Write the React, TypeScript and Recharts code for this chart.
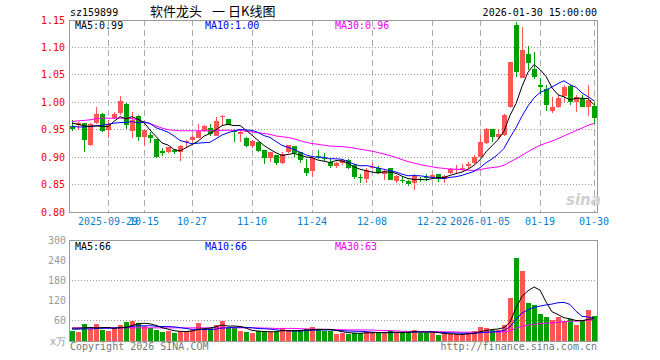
import React from "react";
import {
  ComposedChart,
  Bar,
  Line,
  XAxis,
  YAxis,
  CartesianGrid,
  ReferenceArea,
  Cell,
} from "recharts";

// Trading days shown on the chart (88 sessions).
const DATES = [
  "2025-09-19", "2025-09-22", "2025-09-23", "2025-09-24", "2025-09-25", "2025-09-26", "2025-09-29", "2025-09-30",
  "2025-10-09", "2025-10-10", "2025-10-13", "2025-10-14", "2025-10-15", "2025-10-16", "2025-10-17", "2025-10-20",
  "2025-10-21", "2025-10-22", "2025-10-23", "2025-10-24", "2025-10-27", "2025-10-28", "2025-10-29", "2025-10-30",
  "2025-10-31", "2025-11-03", "2025-11-04", "2025-11-05", "2025-11-06", "2025-11-07", "2025-11-10", "2025-11-11",
  "2025-11-12", "2025-11-13", "2025-11-14", "2025-11-17", "2025-11-18", "2025-11-19", "2025-11-20", "2025-11-21",
  "2025-11-24", "2025-11-25", "2025-11-26", "2025-11-27", "2025-11-28", "2025-12-01", "2025-12-02", "2025-12-03",
  "2025-12-04", "2025-12-05", "2025-12-08", "2025-12-09", "2025-12-10", "2025-12-11", "2025-12-12", "2025-12-15",
  "2025-12-16", "2025-12-17", "2025-12-18", "2025-12-19", "2025-12-22", "2025-12-23", "2025-12-24", "2025-12-25",
  "2025-12-26", "2025-12-29", "2025-12-30", "2025-12-31", "2026-01-05", "2026-01-06", "2026-01-07", "2026-01-08",
  "2026-01-09", "2026-01-12", "2026-01-13", "2026-01-14", "2026-01-15", "2026-01-16", "2026-01-19", "2026-01-20",
  "2026-01-21", "2026-01-22", "2026-01-23", "2026-01-26", "2026-01-27", "2026-01-28", "2026-01-29", "2026-01-30",
];

const OPEN = [
  0.957, 0.958, 0.962, 0.923, 0.962, 0.979, 0.949, 0.971, 0.981, 0.997,
  0.948, 0.975, 0.937, 0.941, 0.933, 0.911, 0.909, 0.913, 0.910, 0.927,
  0.931, 0.934, 0.948, 0.954, 0.939, 0.973, 0.970, 0.948, 0.942, 0.935,
  0.921, 0.928, 0.913, 0.898, 0.903, 0.889, 0.909, 0.920, 0.910, 0.881,
  0.875, 0.902, 0.899, 0.891, 0.883, 0.889, 0.895, 0.886, 0.864, 0.861,
  0.880, 0.881, 0.869, 0.880, 0.857, 0.859, 0.857, 0.852, 0.861, 0.863,
  0.863, 0.869, 0.861, 0.871, 0.876, 0.880, 0.883, 0.890, 0.901, 0.926,
  0.951, 0.936, 0.940, 0.991, 1.141, 1.045, 1.088, 1.060, 1.031, 1.025,
  0.984, 0.991, 1.011, 1.030, 1.001, 1.007, 0.991, 0.993,
];
const CLOSE = [
  0.952, 0.963, 0.931, 0.960, 0.979, 0.947, 0.961, 0.979, 1.003, 0.959,
  0.967, 0.937, 0.949, 0.935, 0.900, 0.908, 0.918, 0.910, 0.920, 0.930,
  0.937, 0.948, 0.957, 0.943, 0.965, 0.975, 0.959, 0.945, 0.945, 0.921,
  0.930, 0.912, 0.898, 0.910, 0.890, 0.905, 0.922, 0.907, 0.895, 0.872,
  0.899, 0.900, 0.897, 0.883, 0.890, 0.895, 0.880, 0.863, 0.862, 0.877,
  0.882, 0.872, 0.874, 0.858, 0.866, 0.856, 0.851, 0.866, 0.858, 0.862,
  0.867, 0.861, 0.866, 0.878, 0.878, 0.881, 0.888, 0.900, 0.928, 0.951,
  0.937, 0.943, 0.977, 1.074, 1.056, 1.095, 1.072, 1.047, 1.028, 0.995,
  0.991, 1.007, 1.028, 1.001, 1.010, 0.991, 1.004, 0.972,
];
const HIGH = [
  0.968, 0.964, 0.963, 0.962, 0.991, 0.980, 0.967, 0.982, 1.011, 0.998,
  0.982, 0.976, 0.949, 0.946, 0.933, 0.916, 0.919, 0.915, 0.922, 0.931,
  0.940, 0.960, 0.958, 0.960, 0.973, 0.976, 0.970, 0.950, 0.948, 0.937,
  0.931, 0.928, 0.913, 0.910, 0.903, 0.909, 0.923, 0.921, 0.910, 0.897,
  0.901, 0.913, 0.907, 0.897, 0.892, 0.897, 0.897, 0.887, 0.869, 0.880,
  0.889, 0.883, 0.876, 0.881, 0.867, 0.864, 0.858, 0.869, 0.864, 0.869,
  0.869, 0.870, 0.867, 0.880, 0.886, 0.888, 0.892, 0.904, 0.940, 0.953,
  0.951, 0.951, 0.978, 1.074, 1.147, 1.138, 1.103, 1.092, 1.044, 1.031,
  1.009, 1.013, 1.031, 1.031, 1.013, 1.013, 1.031, 1.001,
];
const LOW = [
  0.948, 0.949, 0.909, 0.921, 0.961, 0.945, 0.935, 0.970, 0.977, 0.952,
  0.934, 0.929, 0.920, 0.925, 0.899, 0.902, 0.908, 0.905, 0.893, 0.919,
  0.928, 0.934, 0.946, 0.939, 0.939, 0.958, 0.958, 0.928, 0.928, 0.919,
  0.916, 0.910, 0.887, 0.892, 0.886, 0.887, 0.907, 0.901, 0.889, 0.866,
  0.863, 0.897, 0.893, 0.881, 0.880, 0.886, 0.878, 0.860, 0.852, 0.852,
  0.879, 0.870, 0.858, 0.858, 0.853, 0.852, 0.847, 0.841, 0.855, 0.857,
  0.861, 0.855, 0.853, 0.869, 0.869, 0.874, 0.880, 0.888, 0.900, 0.924,
  0.928, 0.931, 0.939, 0.989, 1.047, 1.045, 1.058, 1.042, 1.016, 0.985,
  0.981, 0.989, 1.001, 0.995, 0.983, 0.991, 0.975, 0.960,
];
// volume, in 万
const VOLUME = [
  31, 26, 51, 36, 51, 34, 29, 36, 49, 57,
  60, 52, 46, 40, 34, 26, 31, 23, 29, 31,
  34, 54, 36, 38, 49, 60, 38, 38, 31, 26,
  24, 29, 31, 27, 27, 40, 29, 31, 29, 36,
  41, 36, 31, 29, 20, 24, 20, 25, 25, 27,
  25, 25, 25, 29, 25, 25, 25, 34, 25, 25,
  25, 17, 20, 20, 20, 20, 25, 29, 43, 40,
  34, 32, 49, 127, 248, 207, 114, 106, 81, 72,
  61, 72, 60, 64, 47, 58, 91, 74,
];

// moving-average values before enough history is on screen
const MA5_HEAD = [0.962, 0.960, 0.957, 0.956];
const MA10_HEAD = [0.956, 0.955, 0.955, 0.956, 0.957, 0.958, 0.960, 0.962, 0.963];
const MA30_HEAD = [
  0.965, 0.966, 0.967, 0.968, 0.970, 0.971, 0.971, 0.971, 0.971, 0.971,
  0.970, 0.968, 0.964, 0.961, 0.957, 0.953, 0.950, 0.949, 0.948, 0.948,
  0.948, 0.948, 0.948, 0.948, 0.948, 0.949, 0.949, 0.949, 0.949,
];
const VMA5_HEAD = [38, 38, 39, 40];
const VMA10_HEAD = [35, 35, 36, 36, 37, 38, 38, 39, 39];
const VMA30_HEAD = [
  39, 39, 39, 39, 39, 39, 39, 39, 39, 39,
  39, 39, 39, 39, 39, 39, 39, 39, 39, 39,
  39, 39, 39, 39, 39, 39, 39, 39, 39,
];

const TICKS = [
  "2025-09-29", "2025-10-15", "2025-10-27", "2025-11-10", "2025-11-24",
  "2025-12-08", "2025-12-22", "2026-01-05", "2026-01-19", "2026-01-30",
];
const TICK_LABELS = [
  "2025-09-29", "10-15", "10-27", "11-10", "11-24",
  "12-08", "12-22", "2026-01-05", "01-19", "01-30",
];
const PRICE_TICKS = [0.8, 0.85, 0.9, 0.95, 1.0, 1.05, 1.1, 1.15];
const VOL_TICKS = [0, 60, 120, 180, 240, 300];

const UP = "#ff5555";
const DOWN = "#00a000";
const MONO = "'DejaVu Sans Mono', monospace";

function movingAvg(values: number[], n: number, head: number[]) {
  return values.map((_, i) => {
    if (i < head.length) return head[i];
    let s = 0;
    for (let k = i - n + 1; k <= i; k++) s += values[k];
    return s / n;
  });
}

const ma5 = movingAvg(CLOSE, 5, MA5_HEAD);
const ma10 = movingAvg(CLOSE, 10, MA10_HEAD);
const ma30 = movingAvg(CLOSE, 30, MA30_HEAD);
const vma5 = movingAvg(VOLUME, 5, VMA5_HEAD);
const vma10 = movingAvg(VOLUME, 10, VMA10_HEAD);
const vma30 = movingAvg(VOLUME, 30, VMA30_HEAD);

const rows = DATES.map((d, i) => ({
  d,
  o: OPEN[i],
  c: CLOSE[i],
  h: HIGH[i],
  l: LOW[i],
  hl: [LOW[i], HIGH[i]],
  ma5: ma5[i],
  ma10: ma10[i],
  ma30: ma30[i],
  v: VOLUME[i],
  vma5: vma5[i],
  vma10: vma10[i],
  vma30: vma30[i],
}));

function fmtTick(d: string) {
  const k = TICKS.indexOf(d);
  return k >= 0 ? TICK_LABELS[k] : "";
}

// candlestick drawn inside the [low, high] range bar
function Candle(props: any) {
  const { x, y, width, height, payload } = props;
  const { o, c, h, l } = payload;
  const color = c >= o ? UP : DOWN;
  const top = Math.min(y, y + height);
  const hh = Math.abs(height);
  const span = h - l || 1e-9;
  const yOf = (v: number) => top + ((h - v) / span) * hh;
  const bTop = yOf(Math.max(o, c));
  const bBot = yOf(Math.min(o, c));
  const bx = Math.round(x);
  return (
    <g shapeRendering="crispEdges">
      <rect x={bx + 2} y={top} width={1} height={Math.max(1, hh)} fill={color} />
      <rect x={bx} y={bTop} width={5} height={Math.max(1, bBot - bTop)} fill={color} />
    </g>
  );
}

const txt = (extra: React.CSSProperties): React.CSSProperties => ({
  position: "absolute",
  fontFamily: MONO,
  fontSize: 10,
  lineHeight: "10px",
  whiteSpace: "nowrap",
  ...extra,
});

export default function App() {
  return (
    <div style={{ position: "absolute", left: 0, top: 0, width: 660, height: 360, background: "#fff" }}>
      <div style={txt({ left: 70, top: 8, color: "#000" })}>sz159899</div>
      <div
        style={{
          position: "absolute",
          left: 150,
          top: 3,
          fontFamily: "'Noto Sans CJK SC', sans-serif",
          fontSize: 13,
          lineHeight: "16px",
          color: "#000",
          whiteSpace: "nowrap",
        }}
      >
        软件龙头<span style={{ marginLeft: 10, marginRight: 3 }}>一</span>日K线图
      </div>
      <div style={txt({ right: 63, top: 8, color: "#000" })}>2026-01-30 15:00:00</div>

      <div style={{ position: "absolute", left: 0, top: 0 }}>
        <ComposedChart
          width={660}
          height={232}
          data={rows}
          margin={{ top: 20, right: 63, bottom: 0, left: 0 }}
        >
          <CartesianGrid vertical={false} stroke="#999" strokeDasharray="1 2" shapeRendering="crispEdges" />
          <CartesianGrid horizontal={false} stroke="#aaa" strokeDasharray="6 4" shapeRendering="crispEdges" />
          <XAxis
            dataKey="d"
            ticks={TICKS}
            interval={0}
            tickFormatter={fmtTick}
            tickLine={false}
            tickSize={0}
            tickMargin={6}
            axisLine={false}
            height={20}
            tick={{ fill: "#0a7fd0", fontSize: 10, fontFamily: MONO }}
          />
          <YAxis
            domain={[0.8, 1.15]}
            ticks={PRICE_TICKS}
            allowDataOverflow
            width={69}
            tickLine={false}
            tickSize={0}
            tickMargin={4}
            axisLine={false}
            tickFormatter={(v: number) => v.toFixed(2)}
            tick={{ fill: "#ee0000", fontSize: 10, fontFamily: MONO }}
          />
          <Bar dataKey="hl" barSize={5} shape={<Candle />} isAnimationActive={false} />
          <Line dataKey="ma30" stroke="#ff00ff" strokeWidth={1} dot={false} type="linear" isAnimationActive={false} />
          <Line dataKey="ma10" stroke="#0000ff" strokeWidth={1} dot={false} type="linear" isAnimationActive={false} />
          <Line dataKey="ma5" stroke="#000" strokeWidth={1} dot={false} type="linear" isAnimationActive={false} />
          <ReferenceArea y1={0.8} y2={1.15} fill="none" stroke="#999" strokeWidth={1} shapeRendering="crispEdges" />
        </ComposedChart>
      </div>

      <div style={txt({ left: 75, top: 21, color: "#000" })}>MA5:0.99</div>
      <div style={txt({ left: 205, top: 21, color: "#0000ee" })}>MA10:1.00</div>
      <div style={txt({ left: 335, top: 21, color: "#ee00ee" })}>MA30:0.96</div>
      <div
        style={{
          position: "absolute",
          left: 566,
          top: 193,
          fontFamily: "'DejaVu Sans', sans-serif",
          fontSize: 15,
          fontWeight: "bold",
          fontStyle: "italic",
          color: "#d0d0d0",
          lineHeight: "15px",
        }}
      >
        sina
      </div>

      <div style={{ position: "absolute", left: 0, top: 232 }}>
        <ComposedChart
          width={660}
          height={128}
          data={rows}
          margin={{ top: 8, right: 63, bottom: 19, left: 0 }}
        >
          <CartesianGrid vertical={false} stroke="#999" strokeDasharray="1 2" shapeRendering="crispEdges" />
          <CartesianGrid horizontal={false} stroke="#aaa" strokeDasharray="6 4" shapeRendering="crispEdges" />
          <XAxis
            dataKey="d"
            ticks={TICKS}
            interval={0}
            tick={false}
            tickLine={false}
            axisLine={false}
            height={0}
          />
          <YAxis
            domain={[0, 300]}
            ticks={VOL_TICKS}
            allowDataOverflow
            width={69}
            tickLine={false}
            tickSize={0}
            tickMargin={3}
            axisLine={false}
            tickFormatter={(v: number) => (v === 0 ? "x万" : String(v))}
            tick={{ fill: "#999", fontSize: 10, fontFamily: MONO }}
          />
          <Bar dataKey="v" barSize={5} isAnimationActive={false} shapeRendering="crispEdges">
            {rows.map((r, i) => (
              <Cell key={i} fill={r.c >= r.o ? UP : DOWN} />
            ))}
          </Bar>
          <Line dataKey="vma30" stroke="#ff00ff" strokeWidth={1} dot={false} type="linear" isAnimationActive={false} />
          <Line dataKey="vma10" stroke="#0000ff" strokeWidth={1} dot={false} type="linear" isAnimationActive={false} />
          <Line dataKey="vma5" stroke="#000" strokeWidth={1} dot={false} type="linear" isAnimationActive={false} />
          <ReferenceArea y1={0} y2={300} fill="none" stroke="#999" strokeWidth={1} shapeRendering="crispEdges" />
        </ComposedChart>
      </div>

      <div style={txt({ left: 75, top: 242, color: "#000" })}>MA5:66</div>
      <div style={txt({ left: 205, top: 242, color: "#0000ee" })}>MA10:66</div>
      <div style={txt({ left: 335, top: 242, color: "#ee00ee" })}>MA30:63</div>
      <div style={txt({ left: 70, top: 342, color: "#777" })}>Copyright 2026 SINA.COM</div>
      <div style={txt({ right: 63, top: 342, color: "#777" })}>http://finance.sina.com.cn</div>
    </div>
  );
}
